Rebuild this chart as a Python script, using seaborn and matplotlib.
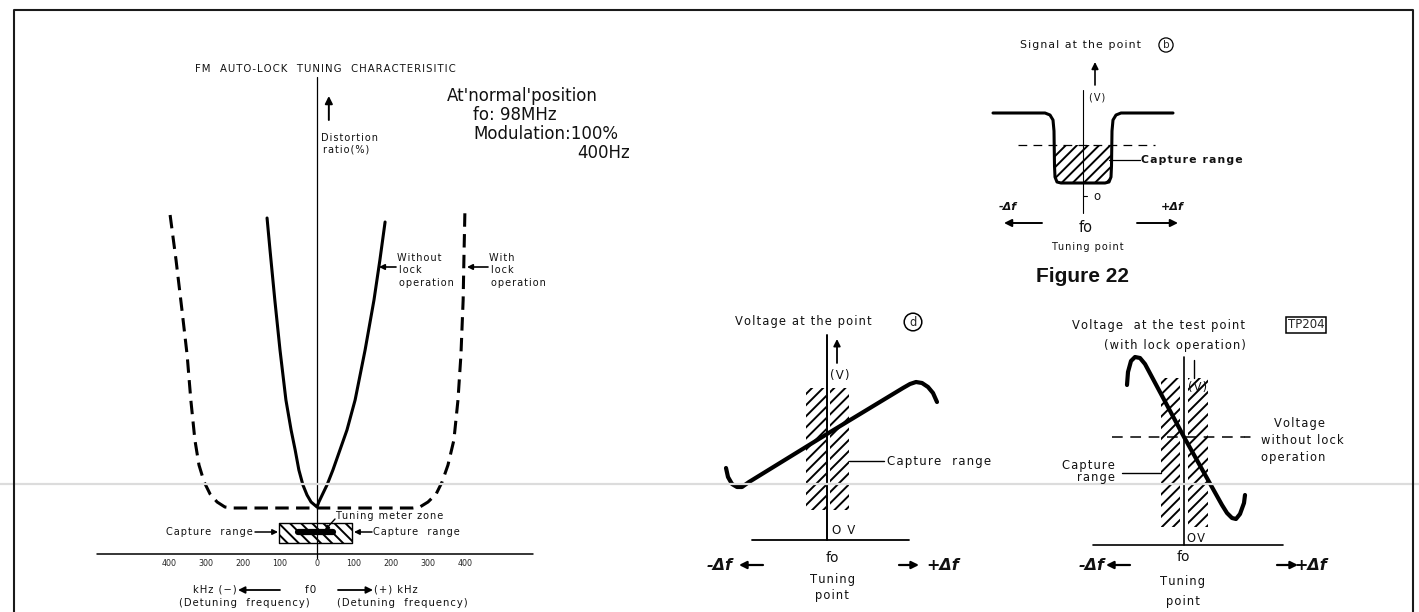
import numpy as np
import matplotlib
matplotlib.use("Agg")
import matplotlib.pyplot as plt
import seaborn as sns

sns.set_theme(style="white")
plt.rcParams['font.family'] = ['DejaVu Sans']
plt.rcParams['hatch.linewidth'] = 1.4
plt.rcParams['hatch.color'] = 'black'

W, H = 1419, 612

# ---------------- data ----------------
# FM auto-lock tuning characteristic: detuning (kHz) vs distortion ratio (%)
tick_khz = [-400, -300, -200, -100, 0, 100, 200, 300, 400]
tick_text = ["400", "300", "200", "100", "0", "100", "200", "300", "400"]
no_lock_khz = [-135, -127, -114, -100, -84, -70, -59, -49, -38, -27, -16, 0,
               5, 14, 27, 43, 62, 81, 103, 130, 154, 170, 184]
no_lock_dist = [33.6, 30.4, 25.4, 20.4, 15.4, 12.4, 10.4, 8.4, 6.9, 5.9, 5.2, 4.7,
                5.2, 5.9, 6.9, 8.4, 10.4, 12.4, 15.4, 20.4, 25.4, 29.4, 33.2]
lock_khz = [-397, -381, -365, -351, -341, -330, -319, -305, -289, -270, -249, -227, 0,
            259, 278, 300, 322, 338, 354, 370, 381, 389, 395, 397, 400]
lock_dist = [33.9, 29.4, 24.4, 19.9, 15.4, 11.4, 8.9, 7.2, 6.0, 5.2, 4.7, 4.6, 4.6,
             4.6, 4.7, 5.2, 6.0, 7.2, 8.9, 11.4, 15.4, 19.9, 25.4, 29.4, 34.7]
capture_khz = [-103, 95]
capture_band = (1.1, 3.1)
meter_zone_khz = [-52, 43]
meter_zone_level = 2.2

# Figure 22: signal at point b vs detuning
sig_df = [-9.0, -3.8, -3.3, -3.0, -2.9, -2.85, -2.8, -2.6, -2.2, 2.2, 2.6, 2.8, 2.85, 2.9, 3.0, 3.3, 3.8, 9.0]
sig_v = [8.3, 8.3, 8.1, 7.6, 6.5, 3.0, 1.9, 1.4, 1.3, 1.3, 1.4, 1.9, 3.0, 6.5, 7.6, 8.1, 8.3, 8.3]
sig_threshold = 5.1

# voltage at point d vs detuning
vd_df = [-10.1, -9.9, -9.5, -9.0, -8.5, -7.8, 0.0, 7.6, 8.3, 8.9, 9.5, 10.1, 10.6, 11.0]
vd_v = [7.2, 6.3, 5.6, 5.3, 5.3, 5.8, 10.6, 15.2, 15.6, 15.8, 15.7, 15.3, 14.7, 13.8]
vd_capture = [(-2.1, -0.1), (0.3, 2.2)]
vd_capture_v = (3.0, 15.2)

# voltage at TP204 (with lock operation) vs detuning
tp_df = [-5.7, -5.6, -5.3, -4.9, -4.4, -3.9, 0.0, 3.8, 4.3, 4.8, 5.2, 5.6, 6.0, 6.1]
tp_v = [16.0, 17.3, 18.4, 18.8, 18.7, 18.1, 10.8, 4.0, 3.2, 2.7, 2.6, 3.1, 4.2, 5.0]
tp_free_v = 10.8
tp_capture = [(-2.3, -0.4), (0.4, 2.4)]
tp_capture_v = (1.8, 16.7)

# ---------------- figure ----------------
fig = plt.figure(figsize=(W / 100, H / 100), dpi=100)
fig.patch.set_facecolor('white')


def make_panel(px0, px1, py0, py1, x_of, y_of):
    ax = fig.add_axes([px0 / W, 1 - py1 / H, (px1 - px0) / W, (py1 - py0) / H])
    ax.axis('off')
    ax._lims = ((x_of(px0), x_of(px1)), (y_of(py1), y_of(py0)))
    return ax


def fix_limits(ax):
    ax.set_xlim(*ax._lims[0])
    ax.set_ylim(*ax._lims[1])
    ax.axis('off')


def line(ax, x, y, lw=2.2, dashes=None):
    sns.lineplot(x=x, y=y, ax=ax, color='black', linewidth=lw, sort=False,
                 estimator=None, legend=False)
    ln = ax.lines[-1]
    ln.set_solid_capstyle('round')
    ln.set_solid_joinstyle('round')
    if dashes is not None:
        ln.set_dashes(dashes)
        ln.set_dash_capstyle('butt')
    return ln


def data_arrow(ax, x0, y0, x1, y1, lw=1.3, ms=10):
    ax.annotate('', xy=(x1, y1), xytext=(x0, y0), xycoords='data',
                arrowprops=dict(arrowstyle='-|>', color='black', lw=lw,
                                mutation_scale=ms, shrinkA=0, shrinkB=0))


# ---- panel A: distortion characteristic ----
axA = make_panel(90, 640, 60, 612, lambda p: (p - 317) / 0.37, lambda p: (554 - p) / 10)
axA.plot([-595, 584], [0, 0], color='black', lw=1.1)
axA.plot([0, 0], [-0.4, 47.7], color='black', lw=0.9)
line(axA, no_lock_khz, no_lock_dist, lw=2.2)
line(axA, lock_khz, lock_dist, lw=2.2, dashes=(4.4, 2.4))
axA.fill_between(capture_khz, capture_band[0], capture_band[1], facecolor='none',
                 edgecolor='black', hatch='\\\\\\', linewidth=1.0)
line(axA, meter_zone_khz, [meter_zone_level] * 2, lw=4.5)
data_arrow(axA, 32, 43.4, 32, 45.8, lw=1.4, ms=11)
for k, s in zip(tick_khz, tick_text):
    axA.text(k, -0.9, s, ha='center', va='center', fontsize=5.8)
fix_limits(axA)

# ---- panel B: signal at the point b ----
axB = make_panel(980, 1260, 55, 215, lambda p: (p - 1083) / 10, lambda p: (196 - p) / 10)
axB.plot([0, 0], [-1.7, 10.6], color='black', lw=0.8)
axB.plot([0, 0.4], [0, 0], color='black', lw=0.8)
sx = np.array(sig_df)
sy = np.array(sig_v)
axB.fill_between(sx, sy, sig_threshold, where=sy < sig_threshold, interpolate=True,
                 facecolor='none', edgecolor='black', hatch='///', linewidth=0)
line(axB, [-6.5, 7.2], [sig_threshold] * 2, lw=0.9, dashes=(7, 5))
line(axB, sig_df, sig_v, lw=2.2)
data_arrow(axB, 1.2, 11.1, 1.2, 13.4, lw=1.2)
fix_limits(axB)

# ---- panel C: voltage at the point d ----
axC = make_panel(690, 1010, 330, 548, lambda p: (p - 827) / 10, lambda p: (540 - p) / 10)
for x0, x1 in vd_capture:
    axC.fill_between([x0, x1], vd_capture_v[0], vd_capture_v[1], facecolor='none',
                     edgecolor='black', hatch='///', linewidth=0)
axC.plot([0, 0], [0, 20.5], color='black', lw=1.4)
axC.plot([-7.5, 8.2], [0, 0], color='black', lw=1.3)
line(axC, vd_df, vd_v, lw=3.0)
data_arrow(axC, 1.0, 17.7, 1.0, 20.1, lw=1.3)
fix_limits(axC)

# ---- panel D: voltage at TP204 ----
axD = make_panel(1085, 1300, 350, 552, lambda p: (p - 1184) / 10, lambda p: (545 - p) / 10)
for x0, x1 in tp_capture:
    axD.fill_between([x0, x1], tp_capture_v[0], tp_capture_v[1], facecolor='none',
                     edgecolor='black', hatch='///', linewidth=0)
axD.plot([0, 0], [0, 18.8], color='black', lw=1.2)
axD.plot([1.0, 1.0], [16.7, 18.5], color='black', lw=1.0)
axD.plot([-9.1, 9.9], [0, 0], color='black', lw=1.2)
line(axD, [-7.2, 6.1], [tp_free_v] * 2, lw=1.1, dashes=(7, 5))
axD.plot([6.1, 6.6], [tp_free_v] * 2, color='black', lw=1.1)
line(axD, tp_df, tp_v, lw=3.0)
fix_limits(axD)

# ---- overlay: frame, labels, pointers ----
ov = fig.add_axes([0, 0, 1, 1])
ov.set_xlim(0, W)
ov.set_ylim(H, 0)
ov.axis('off')

# faint scan line and frame
ov.plot([0, W], [484, 484], color='#dcdcdc', lw=1.6, zorder=0)
ov.plot([14, 14, 1413, 1413], [612, 10, 10, 612], color='#1a1a1a', lw=1.5)

HS = '\u200a'


def tr(s):
    return HS.join(s)


def txt(x, y, s, size=7, ha='left', weight='normal', style='normal', track=True,
        family=None, **kw):
    ov.text(x, y, tr(s) if track else s, fontsize=size, ha=ha, va='center',
            fontweight=weight, fontstyle=style, color='#111111',
            family=family if family else ['DejaVu Sans'], **kw)


def arrow(x0, y0, x1, y1, lw=1.2, ms=9, head=True):
    ov.annotate('', xy=(x1, y1), xytext=(x0, y0),
                arrowprops=dict(arrowstyle='-|>' if head else '-', color='black',
                                lw=lw, mutation_scale=ms, shrinkA=0, shrinkB=0))


# panel A texts
txt(195, 69, "FM  AUTO-LOCK  TUNING  CHARACTERISITIC", size=7.3)
txt(447, 96, "At'normal'position", size=12, track=False)
txt(473, 115, "fo: 98MHz", size=12, track=False)
txt(473, 134, "Modulation:100%", size=12, track=False)
txt(577, 153, "400Hz", size=12, track=False)
txt(321, 138, "Distortion", size=7)
txt(323, 149, "ratio(%)", size=7)
txt(397, 258, "Without", size=7)
txt(399, 270, "lock", size=7)
txt(399, 283, "operation", size=7)
arrow(396, 267, 379, 267, lw=1.2, ms=8)
txt(489, 258, "With", size=7)
txt(491, 270, "lock", size=7)
txt(491, 283, "operation", size=7)
arrow(488, 267, 467, 267, lw=1.2, ms=8)
txt(335, 516, "Tuning meter zone", size=7)
arrow(335, 519, 325, 530, lw=1.0, ms=6)
txt(253, 532, "Capture  range", size=7, ha='right')
arrow(255, 532, 278, 532, lw=1.1, ms=8)
txt(373, 532, "Capture  range", size=7)
arrow(372, 532, 354, 532, lw=1.1, ms=8)
txt(237, 590, "kHz (\u2212)", size=7.2, ha='right')
arrow(280, 590, 238, 590, lw=1.3, ms=10)
txt(311, 590, "f0", size=7.5, ha='center')
arrow(338, 590, 373, 590, lw=1.3, ms=10)
txt(374, 590, "(+) kHz", size=7.2)
txt(244, 603, "(Detuning  frequency)", size=7.2, ha='center')
txt(402, 603, "(Detuning  frequency)", size=7.2, ha='center')

# Figure 22 texts
txt(1020, 45, "Signal at the point", size=7.8)
ov.text(1166, 45, "b", fontsize=7.5, ha='center', va='center',
        bbox=dict(boxstyle='circle,pad=0.2', fc='none', ec='black', lw=0.9))
txt(1089, 97, "(V)", size=7)
txt(1141, 160, "Capture range", size=7.8, weight='bold')
ov.plot([1109, 1140], [160, 160], color='black', lw=0.9)
txt(1093, 197, "o", size=8.5)
txt(1008, 207, "-\u0394f", size=8, weight='bold', style='italic', track=False, ha='center')
txt(1172, 207, "+\u0394f", size=8, weight='bold', style='italic', track=False, ha='center')
arrow(1042, 223, 1004, 223, lw=1.4, ms=11)
arrow(1137, 223, 1178, 223, lw=1.4, ms=11)
txt(1086, 228, "fo", size=10.5, ha='center', track=False)
txt(1087, 247, "Tuning point", size=7, ha='center')
txt(1082, 276, "Figure 22", size=15, ha='center', weight='bold', track=False,
    family=['Liberation Sans Narrow', 'Liberation Sans', 'DejaVu Sans'])

# voltage at d texts
txt(735, 322, "Voltage at the point", size=8.3)
ov.text(913, 322, "d", fontsize=8.3, ha='center', va='center',
        bbox=dict(boxstyle='circle,pad=0.2', fc='none', ec='black', lw=1.1))
txt(830, 376, "(V)", size=8.5)
txt(887, 461, "Capture  range", size=8.5)
ov.plot([849, 884], [461, 461], color='black', lw=1.0)
txt(832, 531, "O V", size=8.5)
txt(832, 558, "fo", size=10, ha='center', track=False)
txt(720, 565, "-\u0394f", size=11.5, weight='bold', style='italic', track=False, ha='center')
arrow(763, 565, 739, 565, lw=1.6, ms=11)
arrow(899, 565, 919, 565, lw=1.6, ms=11)
txt(943, 565, "+\u0394f", size=11.5, weight='bold', style='italic', track=False, ha='center')
txt(832, 580, "Tuning", size=8.3, ha='center')
txt(832, 596, "point", size=8.3, ha='center')

# voltage at TP204 texts
txt(1072, 325, "Voltage  at the test point", size=8.3)
ov.text(1306, 325, "TP204", fontsize=8.5, ha='center', va='center',
        bbox=dict(boxstyle='square,pad=0.15', fc='none', ec='black', lw=1.1))
txt(1175, 345, "(with lock operation)", size=8.3, ha='center')
txt(1188, 387, "(V)", size=8.3)
txt(1300, 423, "Voltage", size=8.3, ha='center')
txt(1302, 440, "without lock", size=8.3, ha='center')
txt(1293, 457, "operation", size=8.3, ha='center')
txt(1115, 465, "Capture", size=8.3, ha='right')
txt(1115, 478, "range", size=8.3, ha='right')
ov.plot([1122, 1161], [473, 473], color='black', lw=1.0)
txt(1187, 538, "OV", size=8.3)
txt(1183, 557, "fo", size=10, ha='center', track=False)
txt(1092, 565, "-\u0394f", size=11.5, weight='bold', style='italic', track=False, ha='center')
arrow(1130, 565, 1106, 565, lw=1.6, ms=11)
arrow(1277, 565, 1298, 565, lw=1.6, ms=11)
txt(1311, 565, "+\u0394f", size=11.5, weight='bold', style='italic', track=False, ha='center')
txt(1183, 582, "Tuning", size=8.3, ha='center')
txt(1183, 601, "point", size=8.3, ha='center')

fig.savefig("out.png", dpi=100, facecolor='white')
